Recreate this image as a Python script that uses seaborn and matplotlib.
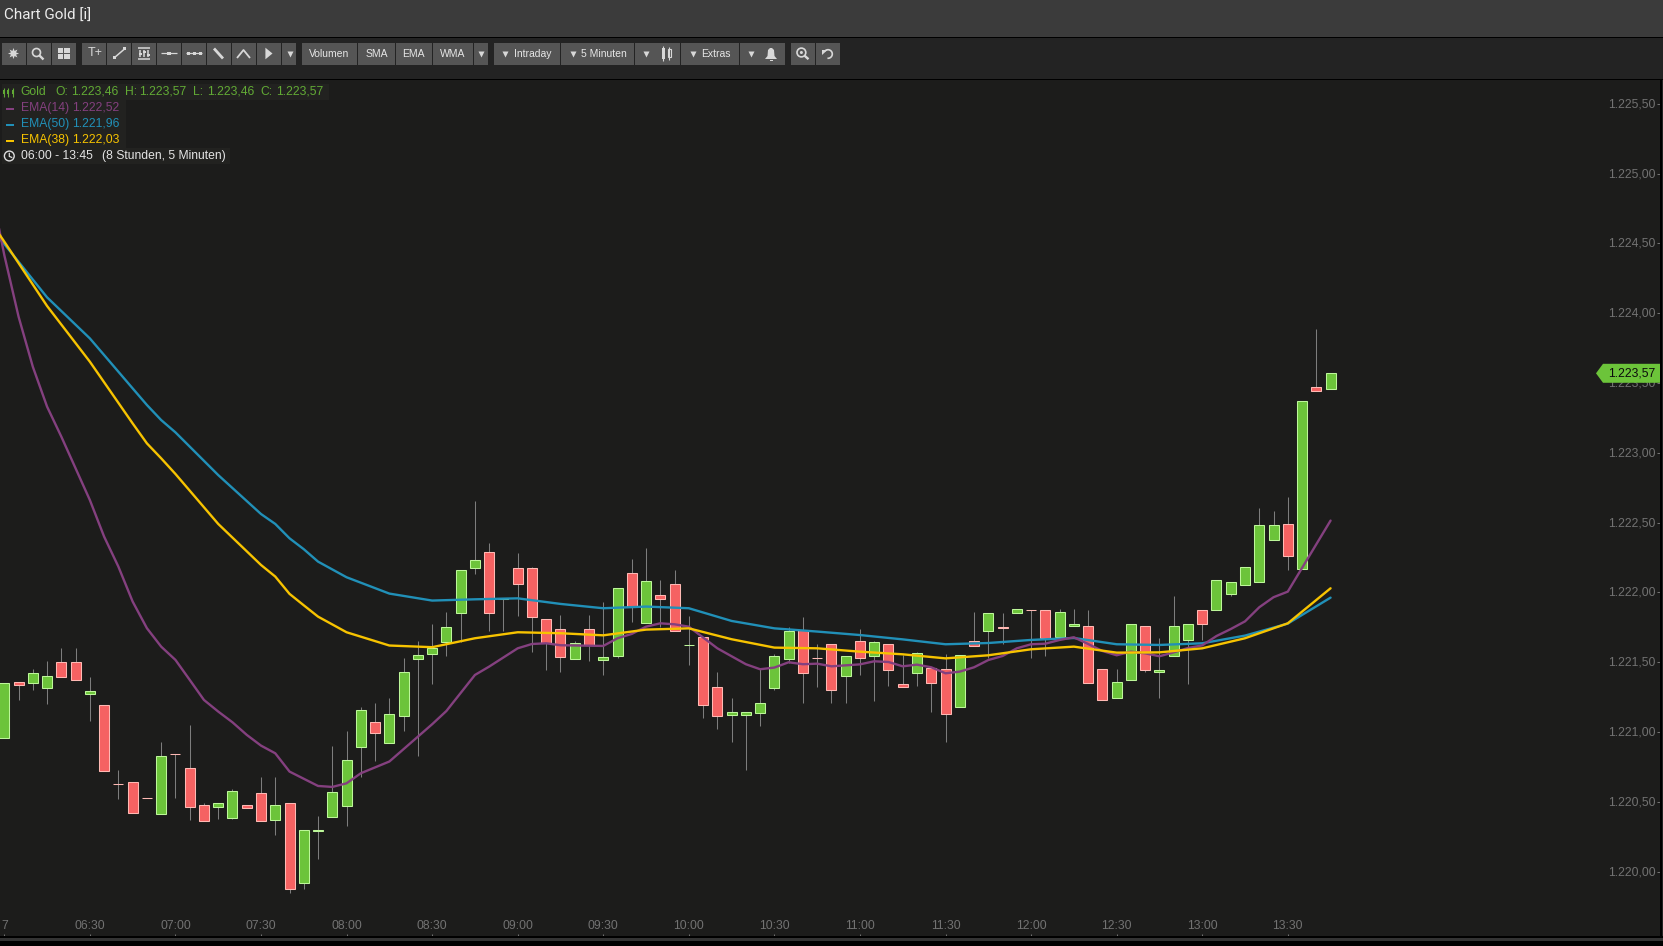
import numpy as np
import seaborn as sns
import matplotlib
matplotlib.use("Agg")
import matplotlib.pyplot as plt
from matplotlib.patches import Rectangle, Polygon, Circle
from matplotlib.transforms import Affine2D, blended_transform_factory

# Candles, 5 minutes each, 06:00 - 13:45
candle_open = [1220.955, 1221.357, 1221.349, 1221.318, 1221.500, 1221.500, 1221.275, 1221.192, 1220.627, 1220.640,
               1220.527, 1220.416, 1220.842, 1220.740, 1220.475, 1220.466, 1220.387, 1220.475, 1220.561, 1220.373,
               1220.490, 1219.921, 1220.293, 1220.394, 1220.473, 1220.896, 1221.070, 1220.924, 1221.118, 1221.526,
               1221.557, 1221.648, 1221.851, 1222.173, 1222.288, 1221.953, 1222.173, 1222.173, 1221.808, 1221.736,
               1221.526, 1221.736, 1221.519, 1221.548, 1222.137, 1221.784, 1221.980, 1222.059, 1221.625, 1221.679,
               1221.321, 1221.125, 1221.125, 1221.139, 1221.318, 1221.526, 1221.731, 1221.530, 1221.629, 1221.404,
               1221.650, 1221.543, 1221.629, 1221.342, 1221.421, 1221.457, 1221.449, 1221.177, 1221.650, 1221.722,
               1221.751, 1221.851, 1221.873, 1221.872, 1221.679, 1221.757, 1221.757, 1221.449, 1221.242, 1221.371,
               1221.757, 1221.428, 1221.543, 1221.657, 1221.872, 1221.872, 1221.987, 1222.056, 1222.078, 1222.379,
               1222.489, 1222.171, 1223.470, 1223.460]
candle_high = [1221.349, 1221.357, 1221.450, 1221.507, 1221.600, 1221.600, 1221.392, 1221.192, 1220.726, 1220.640,
               1220.527, 1220.929, 1220.842, 1221.048, 1220.492, 1220.490, 1220.592, 1220.475, 1220.676, 1220.676,
               1220.490, 1220.296, 1220.397, 1220.900, 1221.005, 1221.177, 1221.206, 1221.242, 1221.528, 1221.650,
               1221.772, 1221.858, 1222.159, 1222.653, 1222.352, 1221.958, 1222.281, 1222.180, 1221.808, 1221.839,
               1221.650, 1221.839, 1221.932, 1222.030, 1222.238, 1222.317, 1222.087, 1222.159, 1221.832, 1221.679,
               1221.428, 1221.242, 1221.142, 1221.450, 1221.560, 1221.755, 1221.825, 1221.631, 1221.629, 1221.543,
               1221.736, 1221.652, 1221.629, 1221.550, 1221.570, 1221.457, 1221.557, 1221.550, 1221.858, 1221.851,
               1221.853, 1221.879, 1221.873, 1221.872, 1221.882, 1221.882, 1221.874, 1221.449, 1221.452, 1221.772,
               1221.757, 1221.672, 1221.972, 1221.772, 1221.872, 1222.087, 1222.073, 1222.181, 1222.603, 1222.582,
               1222.682, 1223.370, 1223.885, 1223.570]
candle_low = [1220.955, 1221.230, 1221.302, 1221.201, 1221.397, 1221.376, 1221.080, 1220.724, 1220.521, 1220.423,
              1220.525, 1220.416, 1220.528, 1220.370, 1220.366, 1220.377, 1220.377, 1220.459, 1220.366, 1220.265,
              1219.850, 1219.878, 1220.093, 1220.394, 1220.330, 1220.681, 1220.795, 1220.924, 1221.008, 1220.831,
              1221.345, 1221.545, 1221.648, 1222.133, 1221.727, 1221.727, 1221.834, 1221.576, 1221.445, 1221.433,
              1221.526, 1221.509, 1221.409, 1221.533, 1221.789, 1221.784, 1221.755, 1221.722, 1221.481, 1221.101,
              1221.022, 1220.932, 1220.729, 1221.044, 1221.302, 1221.493, 1221.209, 1221.323, 1221.209, 1221.209,
              1221.409, 1221.223, 1221.330, 1221.320, 1221.330, 1221.144, 1220.929, 1221.177, 1221.619, 1221.528,
              1221.631, 1221.851, 1221.531, 1221.545, 1221.679, 1221.757, 1221.349, 1221.227, 1221.242, 1221.371,
              1221.430, 1221.244, 1221.543, 1221.344, 1221.660, 1221.872, 1221.975, 1222.056, 1222.078, 1222.379,
              1222.161, 1222.171, 1223.446, 1223.460]
candle_close = [1221.349, 1221.340, 1221.421, 1221.399, 1221.397, 1221.376, 1221.292, 1220.724, 1220.625, 1220.423,
                1220.525, 1220.826, 1220.840, 1220.466, 1220.366, 1220.490, 1220.576, 1220.459, 1220.366, 1220.475,
                1219.874, 1220.296, 1220.295, 1220.569, 1220.798, 1221.156, 1220.996, 1221.127, 1221.428, 1221.550,
                1221.600, 1221.751, 1222.159, 1222.231, 1221.851, 1221.958, 1222.059, 1221.822, 1221.641, 1221.540,
                1221.641, 1221.622, 1221.540, 1222.030, 1221.899, 1222.080, 1221.956, 1221.722, 1221.627, 1221.197,
                1221.118, 1221.142, 1221.142, 1221.206, 1221.543, 1221.722, 1221.426, 1221.528, 1221.304, 1221.543,
                1221.528, 1221.643, 1221.442, 1221.320, 1221.564, 1221.349, 1221.127, 1221.550, 1221.619, 1221.851,
                1221.749, 1221.879, 1221.871, 1221.672, 1221.858, 1221.772, 1221.349, 1221.227, 1221.356, 1221.772,
                1221.442, 1221.442, 1221.757, 1221.772, 1221.772, 1222.087, 1222.073, 1222.181, 1222.481, 1222.481,
                1222.264, 1223.370, 1223.446, 1223.570]

ema_index = [-1, 0, 3, 6, 9, 10, 11, 12, 15, 18, 19, 20, 21, 22, 24, 27, 30, 33, 36, 39, 42, 45, 48, 51, 54, 57, 60,
             63, 66, 69, 72, 75, 78, 81, 84, 87, 90, 93]
ema50 = [1224.620, 1224.496, 1224.114, 1223.820, 1223.462, 1223.343, 1223.235, 1223.147, 1222.841, 1222.562,
         1222.491, 1222.388, 1222.310, 1222.221, 1222.109, 1221.992, 1221.942, 1221.951, 1221.958, 1221.918,
         1221.887, 1221.899, 1221.887, 1221.796, 1221.743, 1221.720, 1221.695, 1221.664, 1221.629, 1221.638,
         1221.660, 1221.674, 1221.629, 1221.624, 1221.636, 1221.691, 1221.777, 1221.963]
ema38 = [1224.663, 1224.513, 1224.052, 1223.653, 1223.211, 1223.068, 1222.961, 1222.849, 1222.491, 1222.197,
         1222.114, 1221.990, 1221.908, 1221.827, 1221.715, 1221.620, 1221.608, 1221.672, 1221.715, 1221.708,
         1221.693, 1221.734, 1221.743, 1221.665, 1221.605, 1221.600, 1221.576, 1221.557, 1221.528, 1221.550,
         1221.593, 1221.612, 1221.569, 1221.571, 1221.600, 1221.672, 1221.779, 1222.030]
ema14_index = [-1, 0, 1, 2, 3, 4, 5, 6, 7, 8, 9, 10, 11, 12, 13, 14, 15, 16, 17, 18, 19, 20, 22, 23, 24, 25, 27, 30,
               31, 33, 34, 36, 37, 38, 39, 42, 43, 44, 45, 46, 47, 48, 50, 52, 53, 54, 55, 56, 57, 58, 59, 60, 61,
               62, 63, 64, 65, 66, 67, 68, 69, 70, 71, 72, 73, 74, 75, 76, 77, 78, 79, 80, 81, 82, 83, 84, 85, 86,
               87, 88, 89, 90, 93]
ema14 = [1224.931, 1224.417, 1223.976, 1223.617, 1223.331, 1223.116, 1222.889, 1222.662, 1222.400, 1222.185,
         1221.935, 1221.744, 1221.612, 1221.517, 1221.374, 1221.230, 1221.147, 1221.070, 1220.980, 1220.903,
         1220.848, 1220.717, 1220.614, 1220.607, 1220.633, 1220.705, 1220.789, 1221.056, 1221.151, 1221.409,
         1221.469, 1221.600, 1221.631, 1221.636, 1221.622, 1221.617, 1221.672, 1221.703, 1221.755, 1221.779,
         1221.772, 1221.755, 1221.600, 1221.486, 1221.450, 1221.462, 1221.500, 1221.486, 1221.490, 1221.471,
         1221.478, 1221.485, 1221.507, 1221.502, 1221.471, 1221.483, 1221.464, 1221.421, 1221.433, 1221.464,
         1221.516, 1221.545, 1221.600, 1221.629, 1221.633, 1221.660, 1221.679, 1221.631, 1221.581, 1221.550,
         1221.576, 1221.564, 1221.543, 1221.571, 1221.602, 1221.621, 1221.688, 1221.738, 1221.793, 1221.894,
         1221.966, 1222.006, 1222.515]

x_ticks = [0, 6, 12, 18, 24, 30, 36, 42, 48, 54, 60, 66, 72, 78, 84, 90]
x_labels = ["7", "06:30", "07:00", "07:30", "08:00", "08:30", "09:00", "09:30", "10:00", "10:30", "11:00", "11:30",
            "12:00", "12:30", "13:00", "13:30"]
y_ticks = [1220.0, 1220.5, 1221.0, 1221.5, 1222.0, 1222.5, 1223.0, 1223.5, 1224.0, 1224.5, 1225.0, 1225.5]
y_labels = ["1.220,00", "1.220,50", "1.221,00", "1.221,50", "1.222,00", "1.222,50", "1.223,00", "1.223,50",
            "1.224,00", "1.224,50", "1.225,00", "1.225,50"]
last_price = 1223.57

BG = "#1c1c1b"
GREEN, GREEN_EDGE = "#6cc43a", "#bdf79a"
RED, RED_EDGE = "#f56262", "#ffb9b4"
PURPLE, BLUE, YELLOW = "#84407f", "#2190b8", "#f7c300"
AXIS_TXT = "#727272"
FS = 8.7

sns.set_theme(style="dark", rc={"axes.facecolor": BG, "figure.facecolor": BG, "axes.grid": False})
plt.rcParams["font.family"] = ["Liberation Sans", "DejaVu Sans"]

W, H = 1663, 946
fig = plt.figure(figsize=(W / 100, H / 100), dpi=100)

# main price panel, pixel box 0..1660 x 80..937
ax = fig.add_axes([0, (H - 937) / H, 1660 / W, (937 - 80) / H])
ax.set_xlim(-0.3015, 116.1)
ax.set_ylim(1219.532, 1225.671)
for s in ax.spines.values():
    s.set_visible(False)

# candles: wicks first, bodies on top
ax.vlines(range(len(candle_open)), candle_low, candle_high, color="#7d7d7d", lw=0.75, zorder=2)
for i, (o, c) in enumerate(zip(candle_open, candle_close)):
    up = c >= o
    ax.bar(i, abs(c - o), bottom=min(o, c), width=0.70, color=GREEN if up else RED,
           edgecolor=GREEN_EDGE if up else RED_EDGE, linewidth=0.75, zorder=3)

sns.lineplot(x=ema_index, y=ema50, ax=ax, color=BLUE, lw=1.7, estimator=None, sort=False, zorder=4)
sns.lineplot(x=ema14_index, y=ema14, ax=ax, color=PURPLE, lw=1.7, estimator=None, sort=False, zorder=4)
sns.lineplot(x=ema_index, y=ema38, ax=ax, color=YELLOW, lw=1.7, estimator=None, sort=False, zorder=4)
ax.set_xlabel("")
ax.set_ylabel("")

ax.set_xticks(x_ticks)
ax.set_xticklabels(x_labels)
ax.tick_params(axis="x", direction="in", length=2.5, width=0.75, color=AXIS_TXT, labelcolor=AXIS_TXT,
               labelsize=FS, pad=-12.6, bottom=True)
ax.yaxis.tick_right()
ax.set_yticks(y_ticks)
ax.set_yticklabels(y_labels, ha="right")
ax.tick_params(axis="y", direction="in", length=2.5, width=0.75, color=AXIS_TXT, labelcolor=AXIS_TXT,
               labelsize=FS, pad=-3.3, right=True)
for lab in ax.get_yticklabels():
    lab.set_transform(lab.get_transform() + Affine2D().translate(0, 1))

# last price flag
tr = blended_transform_factory(ax.transAxes, ax.transData)
dy = 0.068
flag = Polygon([(1596 / 1660, last_price), (1603 / 1660, last_price + dy), (1, last_price + dy),
                (1, last_price - dy), (1603 / 1660, last_price - dy)], closed=True, transform=tr,
               facecolor=GREEN, edgecolor="none", zorder=6)
ax.add_patch(flag)
ax.text(1655 / 1660, last_price, "1.223,57", transform=tr, ha="right", va="center", fontsize=FS, color="#0c0c0c",
        zorder=7)

# window chrome, drawn in pixel coordinates on top
ui = fig.add_axes([0, 0, 1, 1], zorder=10)
ui.set_xlim(0, W)
ui.set_ylim(H, 0)
ui.axis("off")
ui.patch.set_alpha(0)

ICON = "#d8d8d8"


def rect(x0, y0, x1, y1, color, z=1):
    ui.add_patch(Rectangle((x0, y0), x1 - x0, y1 - y0, facecolor=color, edgecolor="none", zorder=z))


def seg(xs, ys, color=ICON, lw=1.1):
    ui.plot(xs, ys, color=color, lw=lw, zorder=4, solid_capstyle="butt")


rect(0, 0, W, 37, "#3b3b3b")
rect(0, 37, W, 38, "#000000")
rect(0, 38, W, 79, "#232323")
rect(0, 79, W, 80, "#000000")
rect(1660, 80, 1662, 937, "#000000")
rect(1662, 80, W, 937, "#232323")
rect(0, 936, W, 937.5, "#000000")
rect(0, 937.5, W, 941, "#333333")
rect(0, 941, W, H, "#000000")

ui.text(4.5, 16, "Chart Gold [i]", color="#ececec", fontsize=11, va="center", family="Roboto")

buttons = [(2.1, 26), (27.1, 51), (52.1, 76), (82.1, 106), (107.1, 131), (132.1, 156), (157.1, 181), (182.1, 206),
           (207.1, 231), (232.1, 256), (257.1, 281), (282.1, 296), (302, 357), (358, 395), (395.7, 432), (433, 473),
           (474, 488), (494, 560), (561, 634), (635, 680), (681, 739), (740, 785), (791, 815), (816, 840)]
for x0, x1 in buttons:
    rect(x0, 43, x1, 65, "#555555", z=2)

BTN_TXT = "#e6e6e6"
for x, s in [(329, "Volumen"), (376.8, "SMA"), (413.6, "EMA"), (452.9, "WMA")]:
    ui.text(x, 53.6, s, color=BTN_TXT, fontsize=7.5, ha="center", va="center", zorder=5)
for x, s in [(513.6, "Intraday"), (581.4, "5 Minuten"), (701.4, "Extras")]:
    ui.text(x, 53.6, s, color=BTN_TXT, fontsize=7.5, va="center", zorder=5)
# dropdown arrows
for x in [289.6, 481, 505, 572.5, 646.4, 692.5, 751.4]:
    ui.plot([x], [54], marker="v", ms=4.4, color=ICON, mec="none", zorder=5)

# toolbar icons
ui.plot([13], [53.5], marker=(8, 1, 0), ms=8, color=ICON, mec="none", zorder=5)
ui.add_patch(Circle((36.5, 52.5), 4, fill=False, ec=ICON, lw=1.2, zorder=5))
seg([39.5, 43.5], [55.5, 59.5], lw=1.7)
for x in (57.8, 64.3):
    for y in (47.7, 53.8):
        rect(x, y, x + 5.5, y + 5.2, ICON, z=5)
ui.text(95, 53.5, "T+", color=ICON, fontsize=9, ha="center", va="center", zorder=5)
seg([114, 124.5], [58, 49])
rect(112.5, 56.5, 115.5, 59.5, ICON, z=5)
rect(123, 47.5, 126, 50.5, ICON, z=5)
seg([137.5, 150], [48, 48])
seg([137.5, 150], [59, 59])
for x, y in [(140, 54), (144, 52.5), (148, 55)]:
    seg([x, x], [50, 57])
    rect(x - 1.5, y - 1, x + 1.5, y + 1, ICON, z=5)
seg([160.7, 176.8], [53.5, 53.5], lw=0.9)
rect(167, 52, 171, 55, ICON, z=5)
seg([186.4, 201.8], [53.5, 53.5], lw=0.9)
for x in (188, 194, 200):
    rect(x - 1.5, 52, x + 1.5, 55, ICON, z=5)
seg([214, 223], [48.5, 58.5], lw=2.0)
seg([237, 243.5, 250], [58, 50, 58], lw=1.3)
ui.add_patch(Polygon([(265.4, 47.7), (272.5, 53.5), (265.4, 59.3)], facecolor=ICON, edgecolor="none", zorder=5))
# candle type icon
seg([663, 663], [46, 61], lw=0.8)
rect(661.5, 48, 664.5, 59, ICON, z=5)
seg([669, 669], [47, 60], lw=0.8)
ui.add_patch(Rectangle((667.5, 49.5), 3, 8, fill=False, ec=ICON, lw=0.8, zorder=5))
# bell
ui.add_patch(Polygon([(765, 59), (767.5, 56), (768, 50), (770, 48), (772, 48), (774, 50), (774.5, 56), (777, 59)],
                     facecolor=ICON, edgecolor="none", zorder=5))
rect(769.5, 60, 772.5, 61, ICON, z=5)
# zoom and undo
ui.add_patch(Circle((801.4, 52.5), 4.4, fill=False, ec=ICON, lw=1.2, zorder=5))
ui.add_patch(Circle((801.4, 52.5), 1.5, fc=ICON, ec="none", zorder=5))
seg([804.6, 808.5], [55.7, 59.2], lw=1.7)
t = np.linspace(-2.4, 1.7, 20)
seg(828 + 4.3 * np.cos(t), 54 + 4.3 * np.sin(t), lw=1.2)
ui.add_patch(Polygon([(822, 50), (827.5, 50), (822, 55)], facecolor=ICON, edgecolor="none", zorder=5))

# info block, top left
rect(2, 84, 329, 100, "#222220", z=1)
rect(2, 100, 126, 148, "#222220", z=1)
rect(2, 148, 230, 164, "#222220", z=1)
GOLD_TXT = "#62ab35"
for x, s in [(20.7, "Gold"), (55.4, "O:"), (70.7, "1.223,46"), (124.6, "H:"), (139.6, "1.223,57"), (193.2, "L:"),
             (206.8, "1.223,46"), (260.7, "C:"), (275.7, "1.223,57")]:
    ui.text(x, 91.9, s, color=GOLD_TXT, fontsize=FS, va="center", zorder=5)
for x in (4.2, 8.4, 12.6):
    seg([x, x], [88, 97.5], color=GOLD_TXT, lw=0.8)
    rect(x - 1, 90.5, x + 1, 94.5, GOLD_TXT, z=5)
for y, name, val, col in [(107.8, "EMA(14)", "1.222,52", PURPLE), (123.8, "EMA(50)", "1.221,96", BLUE),
                          (139.8, "EMA(38)", "1.222,03", YELLOW)]:
    rect(6.4, y + 0.4, 13.6, y + 2.4, col, z=5)
    ui.text(20.7, y, name, color=col, fontsize=FS, va="center", zorder=5)
    ui.text(72.5, y, val, color=col, fontsize=FS, va="center", zorder=5)
ui.add_patch(Circle((9.3, 156), 4.9, fill=False, ec="#dddddd", lw=1, zorder=5))
seg([9.3, 9.3, 12.3], [152.8, 156.4, 157.6], color="#dddddd", lw=0.9)
ui.text(20.7, 155.8, "06:00 - 13:45", color="#e4e4e4", fontsize=FS, va="center", zorder=5)
ui.text(101.8, 155.8, "(8 Stunden, 5 Minuten)", color="#e4e4e4", fontsize=FS, va="center", zorder=5)

fig.savefig("out.png", dpi=100, facecolor=BG)
